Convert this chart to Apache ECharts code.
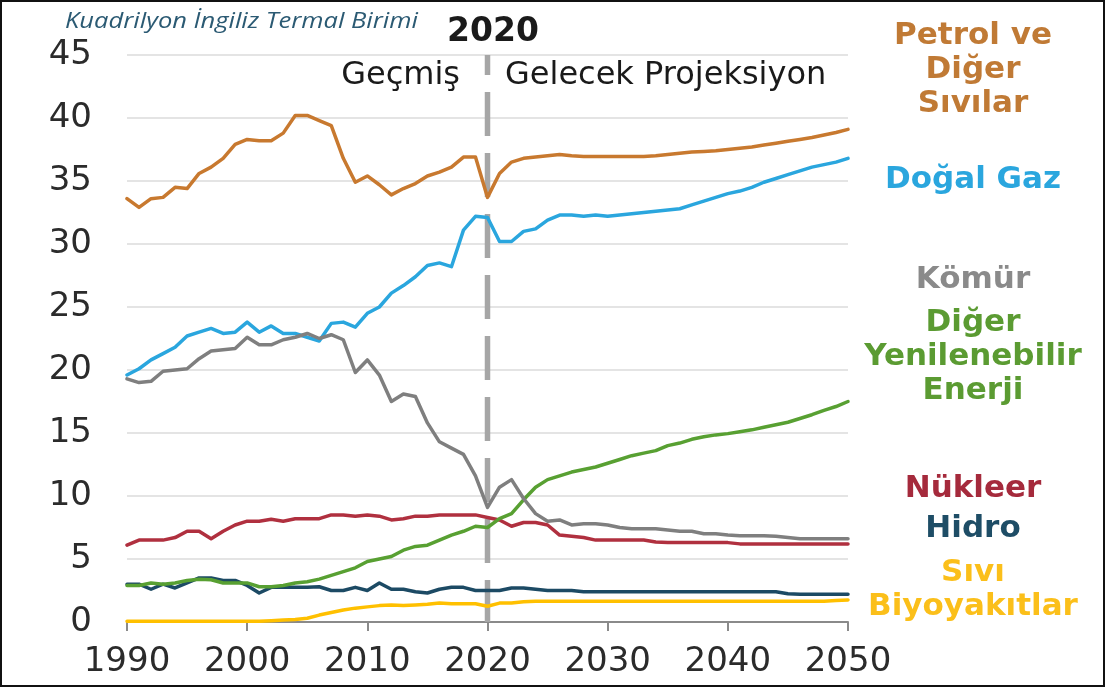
<!DOCTYPE html>
<html>
<head>
<meta charset="utf-8">
<script src="https://cdn.jsdelivr.net/npm/echarts@6/dist/echarts.min.js"></script>
<style>
  html, body { margin: 0; padding: 0; background: #fff; }
  #chart { width: 1105px; height: 687px; }
</style>
</head>
<body>
<div id="chart"></div>
<script>
// years 1990..2050, one value per year
const startYear = 1990;
const dividerYear = 2020;

const petrol = [33.6, 32.9, 33.6, 33.7, 34.5, 34.4, 35.6, 36.1, 36.8, 37.9,
  38.3, 38.2, 38.2, 38.8, 40.2, 40.2, 39.8, 39.4, 36.8, 34.9,
  35.4, 34.7, 33.9, 34.4, 34.8, 35.4, 35.7, 36.1, 36.9, 36.9,
  33.7, 35.6, 36.5, 36.8, 36.9, 37.0, 37.1, 37.0, 36.95, 36.95,
  36.95, 36.95, 36.95, 36.95, 37.0, 37.1, 37.2, 37.3, 37.35, 37.4,
  37.5, 37.6, 37.7, 37.85, 38.0, 38.15, 38.3, 38.45, 38.65, 38.85, 39.1];

const gas = [19.6, 20.1, 20.8, 21.3, 21.8, 22.7, 23.0, 23.3, 22.9, 23.0,
  23.8, 23.0, 23.5, 22.9, 22.9, 22.6, 22.3, 23.7, 23.8, 23.4,
  24.5, 25.0, 26.1, 26.7, 27.4, 28.3, 28.5, 28.2, 31.1, 32.2,
  32.1, 30.2, 30.2, 31.0, 31.2, 31.9, 32.3, 32.3, 32.2, 32.3,
  32.2, 32.3, 32.4, 32.5, 32.6, 32.7, 32.8, 33.1, 33.4, 33.7,
  34.0, 34.2, 34.5, 34.9, 35.2, 35.5, 35.8, 36.1, 36.3, 36.5, 36.8];

const coal = [19.3, 19.0, 19.1, 19.9, 20.0, 20.1, 20.9, 21.5, 21.6, 21.7,
  22.6, 22.0, 22.0, 22.4, 22.6, 22.9, 22.5, 22.8, 22.4, 19.8,
  20.8, 19.6, 17.5, 18.1, 17.9, 15.8, 14.3, 13.8, 13.3, 11.6,
  9.1, 10.7, 11.3, 9.8, 8.6, 8.0, 8.1, 7.7, 7.8, 7.8,
  7.7, 7.5, 7.4, 7.4, 7.4, 7.3, 7.2, 7.2, 7.0, 7.0,
  6.9, 6.85, 6.85, 6.85, 6.8, 6.7, 6.6, 6.6, 6.6, 6.6, 6.6];

const renewables = [2.9, 2.9, 3.1, 3.0, 3.1, 3.3, 3.4, 3.35, 3.1, 3.1,
  3.1, 2.8, 2.8, 2.9, 3.1, 3.2, 3.4, 3.7, 4.0, 4.3,
  4.8, 5.0, 5.2, 5.7, 6.0, 6.1, 6.5, 6.9, 7.2, 7.6,
  7.5, 8.2, 8.6, 9.7, 10.7, 11.3, 11.6, 11.9, 12.1, 12.3,
  12.6, 12.9, 13.2, 13.4, 13.6, 14.0, 14.2, 14.5, 14.7, 14.85,
  14.95, 15.1, 15.25, 15.45, 15.65, 15.85, 16.15, 16.45, 16.8, 17.1, 17.5];

const nuclear = [6.1, 6.5, 6.5, 6.5, 6.7, 7.2, 7.2, 6.6, 7.2, 7.7,
  8.0, 8.0, 8.15, 8.0, 8.2, 8.2, 8.2, 8.5, 8.5, 8.4,
  8.5, 8.4, 8.1, 8.2, 8.4, 8.4, 8.5, 8.5, 8.5, 8.5,
  8.3, 8.1, 7.6, 7.9, 7.9, 7.7, 6.9, 6.8, 6.7, 6.5,
  6.5, 6.5, 6.5, 6.5, 6.35, 6.3, 6.3, 6.3, 6.3, 6.3,
  6.3, 6.2, 6.2, 6.2, 6.2, 6.2, 6.2, 6.2, 6.2, 6.2, 6.2];

const hydro = [3.0, 3.0, 2.6, 3.0, 2.7, 3.1, 3.5, 3.5, 3.3, 3.3,
  2.9, 2.3, 2.75, 2.75, 2.75, 2.75, 2.8, 2.5, 2.5, 2.75,
  2.5, 3.1, 2.6, 2.6, 2.4, 2.3, 2.6, 2.75, 2.75, 2.5,
  2.5, 2.5, 2.7, 2.7, 2.6, 2.5, 2.5, 2.5, 2.4, 2.4,
  2.4, 2.4, 2.4, 2.4, 2.4, 2.4, 2.4, 2.4, 2.4, 2.4,
  2.4, 2.4, 2.4, 2.4, 2.4, 2.25, 2.2, 2.2, 2.2, 2.2, 2.2];

const biofuels = [0.05, 0.05, 0.05, 0.05, 0.05, 0.05, 0.05, 0.05, 0.05, 0.05,
  0.05, 0.05, 0.1, 0.15, 0.2, 0.3, 0.55, 0.75, 0.95, 1.1,
  1.2, 1.3, 1.35, 1.3, 1.35, 1.4, 1.5, 1.45, 1.45, 1.45,
  1.25, 1.5, 1.5, 1.6, 1.65, 1.65, 1.65, 1.65, 1.65, 1.65,
  1.65, 1.65, 1.65, 1.65, 1.65, 1.65, 1.65, 1.65, 1.65, 1.65,
  1.65, 1.65, 1.65, 1.65, 1.65, 1.65, 1.65, 1.65, 1.65, 1.7, 1.75];

const seriesNames = ['Sıvı Biyoyakıtlar', 'Hidro', 'Nükleer', 'Diğer Yenilenebilir Enerji', 'Doğal Gaz', 'Kömür', 'Petrol ve Diğer Sıvılar'];
const seriesValues = [biofuels, hydro, nuclear, renewables, gas, coal, petrol];
const seriesColors = ['#ffc000', '#1c4a64', '#b0303f', '#58a032', '#2aa6de', '#7f7f7f', '#c8792f'];

const unitText = 'Kuadrilyon İngiliz Termal Birimi';
const pastText = 'Geçmiş';
const futureText = 'Gelecek Projeksiyon';

// right-side labels, top to bottom
const sideLabels = ['Petrol ve\nDiğer\nSıvılar', 'Doğal Gaz', 'Kömür', 'Diğer\nYenilenebilir\nEnerji', 'Nükleer', 'Hidro', 'Sıvı\nBiyoyakıtlar'];
const sideColors = ['#c07a35', '#2aa6de', '#8a8a8a', '#5b9b32', '#a52a3c', '#1e4d66', '#fbbf1a'];
const sideY = [70, 180, 280, 357, 489, 529, 590];

const toPairs = arr => arr.map((v, i) => [startYear + i, v]);

const chart = echarts.init(document.getElementById('chart'));

const lineSeries = seriesValues.map((vals, i) => ({
  name: seriesNames[i],
  type: 'line',
  data: toPairs(vals),
  symbol: 'none',
  z: 3,
  lineStyle: { color: seriesColors[i], width: 3.5, join: 'round', cap: 'round' },
  itemStyle: { color: seriesColors[i] }
}));

const dividerSeries = {
  name: 'divider',
  type: 'line',
  data: [[dividerYear, 45], [dividerYear, 0]],
  symbol: 'none',
  z: 2,
  silent: true,
  lineStyle: { color: '#a6a6a6', width: 5.5, type: [44, 17], dashOffset: 24, cap: 'butt' }
};

const sideGraphics = sideLabels.map((t, i) => ({
  type: 'text',
  x: 973,
  y: sideY[i],
  style: {
    text: t,
    fill: sideColors[i],
    font: 'bold 31px "DejaVu Sans"',
    textAlign: 'center',
    align: 'center',
    textVerticalAlign: 'middle',
    verticalAlign: 'middle',
    lineHeight: 34
  }
}));

chart.setOption({
  animation: false,
  grid: { left: 127, right: 257, top: 55, bottom: 65 },
  xAxis: {
    type: 'value',
    min: 1990,
    max: 2050,
    interval: 10,
    splitLine: { show: false },
    axisLine: { show: true, lineStyle: { color: '#8a8a8a', width: 2 } },
    axisTick: { show: true, length: 9, lineStyle: { color: '#8a8a8a', width: 2 } },
    axisLabel: {
      margin: 23,
      fontSize: 34,
      fontFamily: 'DejaVu Sans',
      color: '#2b2b2b',
      formatter: v => String(v)
    }
  },
  yAxis: {
    type: 'value',
    min: 0,
    max: 45,
    interval: 5,
    axisLine: { show: false },
    axisTick: { show: false },
    splitLine: { lineStyle: { color: '#e4e4e4', width: 2 } },
    axisLabel: {
      margin: 35,
      fontSize: 34,
      fontFamily: 'DejaVu Sans',
      color: '#2b2b2b'
    }
  },
  series: [dividerSeries].concat(lineSeries),
  graphic: [
    {
      type: 'text', x: 65, y: 22, scaleX: 1.16,
      style: { text: unitText, fill: '#2b5a73', font: 'italic 22px "Open Sans"',
        textAlign: 'left', align: 'left', textVerticalAlign: 'middle', verticalAlign: 'middle' }
    },
    {
      type: 'text', x: 493, y: 32,
      style: { text: String(dividerYear), fill: '#1a1a1a', font: 'bold 33px "DejaVu Sans"',
        textAlign: 'center', align: 'center', textVerticalAlign: 'middle', verticalAlign: 'middle' }
    },
    {
      type: 'text', x: 460, y: 76,
      style: { text: pastText, fill: '#1a1a1a', font: '32px "DejaVu Sans"',
        textAlign: 'right', align: 'right', textVerticalAlign: 'middle', verticalAlign: 'middle' }
    },
    {
      type: 'text', x: 505, y: 76,
      style: { text: futureText, fill: '#1a1a1a', font: '32px "DejaVu Sans"',
        textAlign: 'left', align: 'left', textVerticalAlign: 'middle', verticalAlign: 'middle' }
    },
    {
      type: 'rect', z: 100, silent: true,
      shape: { x: 1, y: 1, width: 1103, height: 685 },
      style: { fill: 'none', stroke: '#111', lineWidth: 2 }
    }
  ].concat(sideGraphics)
});
</script>
</body>
</html>
